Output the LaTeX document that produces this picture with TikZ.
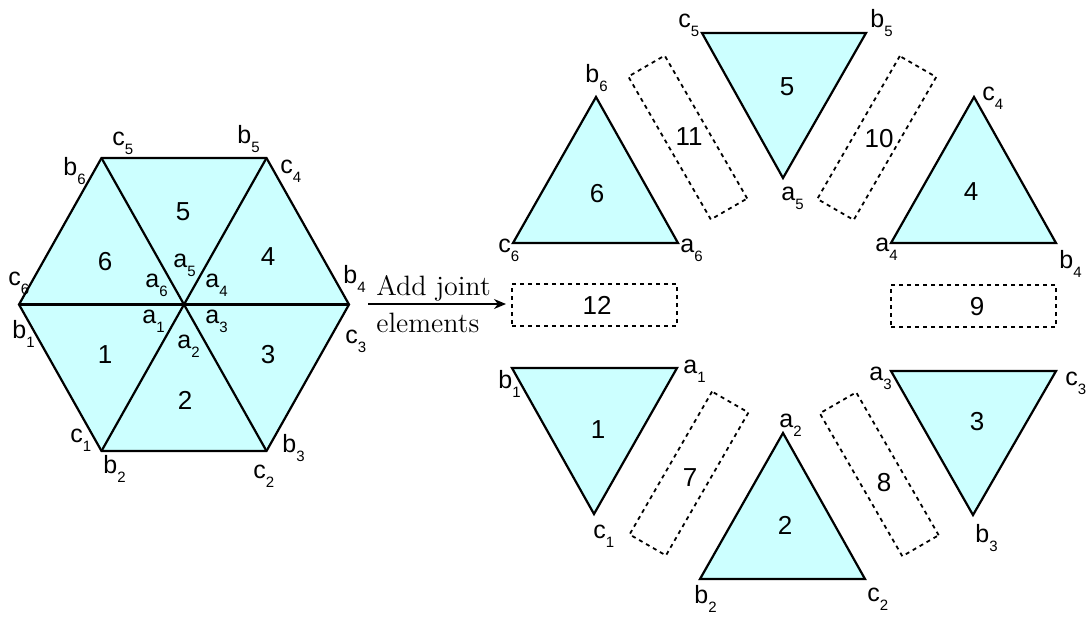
\documentclass[tikz,border=0pt]{standalone}
\usepackage{fontspec}
\setsansfont{Liberation Sans}
\usetikzlibrary{arrows.meta}
\definecolor{tricyan}{RGB}{204,255,255}
\newcommand{\vx}[2]{#1\raisebox{-4.5pt}{\fontsize{7.5}{9}\selectfont #2}}

\begin{document}
\begin{tikzpicture}[
    x=0.5pt, y=-0.5pt,
    tri/.style={draw, fill=tricyan, line width=1.1pt, line join=miter},
    joint/.style={rectangle, draw, dash pattern=on 2pt off 2pt, line width=0.9pt,
                  minimum width=82.5pt, minimum height=21pt, inner sep=0pt},
    num/.style={font=\sffamily\fontsize{13}{15}\selectfont, inner sep=0pt},
    vlab/.style={font=\sffamily\fontsize{12.5}{15}\selectfont, inner sep=0pt, anchor=base west},
    arrow/.style={-{Stealth[length=6pt, width=5pt]}, line width=0.7pt},
    caption/.style={font=\fontsize{14}{16}\selectfont, inner sep=0pt, anchor=base west}
]
\useasboundingbox (0,0) rectangle (1087,623);

%% ── Hexagon (before) ────────────────────────────────────────────────────────
\coordinate (O)  at (184,304.5);
\coordinate (H1) at (101.5,158);
\coordinate (H2) at (266.5,158);
\coordinate (H3) at (349,304.5);
\coordinate (H4) at (266.5,451);
\coordinate (H5) at (101.5,451);
\coordinate (H6) at (19,304.5);

\filldraw[tri] (H1) -- (H2) -- (H3) -- (H4) -- (H5) -- (H6) -- cycle;
\draw[tri, fill=none] (H1) -- (H4);
\draw[tri, fill=none] (H2) -- (H5);
\draw[tri, fill=none] (H3) -- (H6);

\node[num] (h5) at (183,212) {5};
\node[num] (h6) at (105,262) {6};
\node[num] (h4) at (268,257) {4};
\node[num] (h1) at (105,355) {1};
\node[num] (h3) at (268,355) {3};
\node[num] (h2) at (185,400) {2};

\node[vlab] (hc5) at (112,145) {\vx{c}{5}};
\node[vlab] (hb5) at (237,143) {\vx{b}{5}};
\node[vlab] (hb6) at (63,175)  {\vx{b}{6}};
\node[vlab] (hc4) at (280,173) {\vx{c}{4}};
\node[vlab] (ha5) at (173,267) {\vx{a}{5}};
\node[vlab] (ha6) at (145,287) {\vx{a}{6}};
\node[vlab] (ha4) at (205,287) {\vx{a}{4}};
\node[vlab] (hc6) at (8,285)   {\vx{c}{6}};
\node[vlab] (hb4) at (343,283) {\vx{b}{4}};
\node[vlab] (ha1) at (142,323) {\vx{a}{1}};
\node[vlab] (ha3) at (205,323) {\vx{a}{3}};
\node[vlab] (ha2) at (177,348) {\vx{a}{2}};
\node[vlab] (hb1) at (12,338)  {\vx{b}{1}};
\node[vlab] (hc3) at (345,343) {\vx{c}{3}};
\node[vlab] (hc1) at (70,442)  {\vx{c}{1}};
\node[vlab] (hb3) at (282,452) {\vx{b}{3}};
\node[vlab] (hb2) at (103,473) {\vx{b}{2}};
\node[vlab] (hc2) at (253,478) {\vx{c}{2}};

%% ── Arrow ───────────────────────────────────────────────────────────────────
\coordinate (arrS) at (368,304);
\coordinate (arrE) at (506,304);
\draw[arrow] (arrS) -- (arrE);
\node[caption] (cap1) at (376,295) {Add joint};
\node[caption] (cap2) at (376,332) {elements};

%% ── Separated triangles (after) ─────────────────────────────────────────────
\filldraw[tri] (596,97)  -- (513,243) -- (678,243) -- cycle;  % 6
\filldraw[tri] (702,33)  -- (866,33)  -- (783,178) -- cycle;  % 5
\filldraw[tri] (974,97)  -- (891,243) -- (1056,243) -- cycle; % 4
\filldraw[tri] (512,368) -- (677,368) -- (594,514) -- cycle;  % 1
\filldraw[tri] (783,433) -- (700,579) -- (865,579) -- cycle;  % 2
\filldraw[tri] (891,371) -- (1056,371) -- (973,515) -- cycle; % 3

\node[num] (t6) at (597,194) {6};
\node[num] (t5) at (787,87)  {5};
\node[num] (t4) at (971,192) {4};
\node[num] (t1) at (598,430) {1};
\node[num] (t2) at (785,525) {2};
\node[num] (t3) at (977,422) {3};

\node[vlab] (tc5) at (678,27)   {\vx{c}{5}};
\node[vlab] (tb5) at (870,27)   {\vx{b}{5}};
\node[vlab] (tb6) at (585,82)   {\vx{b}{6}};
\node[vlab] (tc4) at (982,100)  {\vx{c}{4}};
\node[vlab] (ta5) at (781,200)  {\vx{a}{5}};
\node[vlab] (tc6) at (498,252)  {\vx{c}{6}};
\node[vlab] (ta6) at (680,252)  {\vx{a}{6}};
\node[vlab] (ta4) at (875,251)  {\vx{a}{4}};
\node[vlab] (tb4) at (1059,268) {\vx{b}{4}};
\node[vlab] (tb1) at (498,388)  {\vx{b}{1}};
\node[vlab] (ta1) at (683,373)  {\vx{a}{1}};
\node[vlab] (ta3) at (869,380)  {\vx{a}{3}};
\node[vlab] (tc3) at (1065,385) {\vx{c}{3}};
\node[vlab] (ta2) at (779,427)  {\vx{a}{2}};
\node[vlab] (tc1) at (593,538)  {\vx{c}{1}};
\node[vlab] (tb3) at (975,542)  {\vx{b}{3}};
\node[vlab] (tb2) at (694,603)  {\vx{b}{2}};
\node[vlab] (tc2) at (867,601)  {\vx{c}{2}};

%% ── Joint elements ──────────────────────────────────────────────────────────
\node[joint]            (j12) at (594.5,305)    {};
\node[joint]            (j9)  at (973.5,306)    {};
\node[joint, rotate=-60] (j11) at (687.75,137.5) {};
\node[joint, rotate=60]  (j10) at (876.75,138)   {};
\node[joint, rotate=60]  (j7)  at (689,473.5)    {};
\node[joint, rotate=-60] (j8)  at (879.25,474.25) {};

\node[num] (n12) at (597,305) {12};
\node[num] (n9)  at (977,307) {9};
\node[num] (n11) at (689,137) {11};
\node[num] (n10) at (879,139) {10};
\node[num] (n7)  at (690,478) {7};
\node[num] (n8)  at (884,483) {8};

\end{tikzpicture}
\end{document}
